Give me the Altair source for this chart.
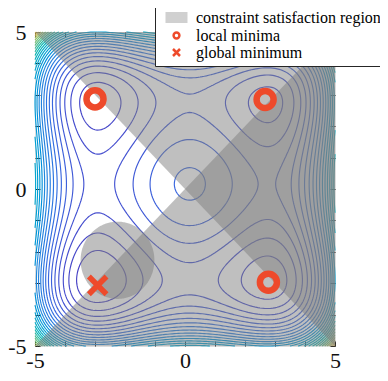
import numpy as np
import pandas as pd
import altair as alt

# ---------------- data ----------------
# Styblinski-Tang test function: f = SCALE * sum(c4*t^4 + c2*t^2 + c1*t)
POLY_COEFFS = [1.0, -16.0, 5.0]
POLY_SCALE = 0.5
GRID_MIN, GRID_MAX, GRID_N = -5.0, 5.0, 141
N_LEVEL_STEPS = 30

# marker positions
LOCAL_MIN_X = [-3.0, 2.67, 2.78]
LOCAL_MIN_Y = [2.87, 2.85, -2.97]
GLOBAL_MIN_X = [-2.91]
GLOBAL_MIN_Y = [-3.07]

CIRCLE_CENTER_X = -2.25
CIRCLE_CENTER_Y = -2.27
CIRCLE_RADIUS = 1.23

TICK_VALUES = [-5, -4, -3, -2, -1, 0, 1, 2, 3, 4, 5]
LABEL_VALUES = [-5, 0, 5]
LEGEND_LABELS = ["constraint satisfaction region", "local minima", "global minimum"]

COLOR_DOMAIN = [-78, -40, 0, 50, 100, 150, 180, 205, 228, 250]
COLOR_RANGE = ["#4a3cc0", "#4450d0", "#3a68e0", "#2686dc", "#12a8cc",
               "#3cbb98", "#86c070", "#d0bc58", "#f4c03a", "#f8e61c"]

# ---------------- contours ----------------
xs = np.linspace(GRID_MIN, GRID_MAX, GRID_N)
ys = np.linspace(GRID_MIN, GRID_MAX, GRID_N)
XX, YY = np.meshgrid(xs, ys)


def g(t):
    c4, c2, c1 = POLY_COEFFS
    return c4 * t ** 4 + c2 * t ** 2 + c1 * t


Z = POLY_SCALE * (g(XX) + g(YY))
levels = np.linspace(Z.min(), Z.max(), N_LEVEL_STEPS + 1)[1:-1]


def trace(level):
    B = Z > level
    code = (B[:-1, :-1] * 1 + B[:-1, 1:] * 2 + B[1:, 1:] * 4 + B[1:, :-1] * 8)
    jj, ii = np.nonzero((code != 0) & (code != 15))
    pts, adj = {}, {}

    def ep(key):
        if key in pts:
            return
        kind, i, j = key
        if kind == "h":
            z0, z1 = Z[j, i], Z[j, i + 1]
            t = (level - z0) / (z1 - z0)
            pts[key] = (xs[i] + t * (xs[i + 1] - xs[i]), ys[j])
        else:
            z0, z1 = Z[j, i], Z[j + 1, i]
            t = (level - z0) / (z1 - z0)
            pts[key] = (xs[i], ys[j] + t * (ys[j + 1] - ys[j]))

    def link(a, b):
        ep(a)
        ep(b)
        adj.setdefault(a, []).append(b)
        adj.setdefault(b, []).append(a)

    for j, i in zip(jj, ii):
        c0, c1, c2, c3 = B[j, i], B[j, i + 1], B[j + 1, i + 1], B[j + 1, i]
        bottom, right, top, left = ("h", i, j), ("v", i + 1, j), ("h", i, j + 1), ("v", i, j)
        cross = []
        if c0 != c1:
            cross.append(bottom)
        if c1 != c2:
            cross.append(right)
        if c2 != c3:
            cross.append(top)
        if c3 != c0:
            cross.append(left)
        if len(cross) == 2:
            link(cross[0], cross[1])
        elif len(cross) == 4:
            center = (Z[j, i] + Z[j, i + 1] + Z[j + 1, i + 1] + Z[j + 1, i]) / 4 > level
            if center == c0:
                link(bottom, right)
                link(top, left)
            else:
                link(left, bottom)
                link(right, top)

    visited = set()
    paths = []
    starts = [k for k, v in adj.items() if len(v) == 1] + list(adj.keys())
    for s in starts:
        if s in visited:
            continue
        path = [s]
        visited.add(s)
        prev, cur = None, s
        while True:
            nxt = [n for n in adj[cur] if n != prev and n not in visited]
            if not nxt:
                if len(path) > 2 and s in adj[cur]:
                    path.append(s)
                break
            prev, cur = cur, nxt[0]
            path.append(cur)
            visited.add(cur)
        paths.append([pts[k] for k in path])
    return paths


rows = []
for li, lev in enumerate(levels):
    for pi, path in enumerate(trace(lev)):
        for k, (px, py) in enumerate(path):
            rows.append({"level": round(float(lev), 3), "pid": f"{li}_{pi}", "ord": k,
                         "x": round(float(px), 4), "y": round(float(py), 4)})
contour_df = pd.DataFrame(rows)

# ---------------- constraint regions ----------------
reg_rows = []
# half plane x + y >= 0
for xv in [GRID_MIN, GRID_MAX]:
    reg_rows.append({"region": "a", "x": xv, "lo": -xv, "hi": GRID_MAX})
# half plane x >= y
for xv in [GRID_MIN, GRID_MAX]:
    reg_rows.append({"region": "b", "x": xv, "lo": GRID_MIN, "hi": xv})
# disc
for th in np.linspace(np.pi, 0, 121):
    dx = CIRCLE_RADIUS * np.cos(th)
    dy = CIRCLE_RADIUS * np.sin(th)
    reg_rows.append({"region": "c", "x": CIRCLE_CENTER_X + dx,
                     "lo": CIRCLE_CENTER_Y - dy, "hi": CIRCLE_CENTER_Y + dy})
region_df = pd.DataFrame(reg_rows)

local_df = pd.DataFrame({"x": LOCAL_MIN_X, "y": LOCAL_MIN_Y, "label": LEGEND_LABELS[1]})
global_df = pd.DataFrame({"x": GLOBAL_MIN_X, "y": GLOBAL_MIN_Y, "label": LEGEND_LABELS[2]})

# ---------------- chart ----------------
W, H = 300, 314
FONT = "Liberation Serif"
AX = "#262626"
RED = "#ee4a2b"

xscale = alt.Scale(domain=[GRID_MIN, GRID_MAX], nice=False, zero=False)
yscale = alt.Scale(domain=[GRID_MIN, GRID_MAX], nice=False, zero=False)

label_expr = "datum.value < 0 ? '-' + format(-datum.value, 'd') : format(datum.value, 'd')"


def label_axis(orient, pad):
    return alt.Axis(orient=orient, values=LABEL_VALUES, ticks=False, tickSize=0, domain=False,
                    grid=False, title=None, labelFont=FONT, labelFontSize=22,
                    labelColor="#111111", labelPadding=pad, labelExpr=label_expr,
                    labelOverlap=False, labelFlush=False)


def tick_axis(orient, offset):
    return alt.Axis(orient=orient, offset=offset, values=TICK_VALUES, labels=False,
                    tickSize=5, tickColor=AX, tickWidth=1, domain=False, grid=False,
                    title=None)


RECT_PATH = ("M-1.571,-0.607H1.571M-1.571,-0.455H1.571M-1.571,-0.303H1.571"
             "M-1.571,-0.152H1.571M-1.571,0H1.571M-1.571,0.152H1.571"
             "M-1.571,0.303H1.571M-1.571,0.455H1.571M-1.571,0.607H1.571")
CIRCLE_PATH = "M0.414,0A0.414,0.414 0 1,1 -0.414,0A0.414,0.414 0 1,1 0.414,0Z"
X_PATH = "M-0.5,-0.5L0.5,0.5M-0.5,0.5L0.5,-0.5"

legend = alt.Legend(orient="none", legendX=120, legendY=-28, title=None,
                    padding=5, rowPadding=0, symbolSize=196, symbolStrokeWidth=2.5,
                    symbolOffset=8, labelOffset=11, labelFont=FONT, labelFontSize=16,
                    labelColor="black", labelLimit=0, strokeColor=AX, fillColor="white")

color_enc = alt.Color("label:N", scale=alt.Scale(domain=LEGEND_LABELS,
                                                 range=["#d0d0d0", RED, RED]), legend=legend)
shape_enc = alt.Shape("label:N", scale=alt.Scale(domain=LEGEND_LABELS,
                                                 range=[RECT_PATH, CIRCLE_PATH, X_PATH]),
                      legend=legend)

contours = alt.Chart(contour_df).mark_line(strokeWidth=1.15).encode(
    x=alt.X("x:Q", scale=xscale, axis=label_axis("bottom", 4)),
    y=alt.Y("y:Q", scale=yscale, axis=label_axis("left", 9)),
    detail="pid:N",
    order="ord:Q",
    stroke=alt.Stroke("level:Q", scale=alt.Scale(domain=COLOR_DOMAIN, range=COLOR_RANGE),
                      legend=None),
)

regions = alt.Chart(region_df).mark_area(color="#808080", opacity=0.5).encode(
    x=alt.X("x:Q", scale=xscale, axis=tick_axis("top", -H)),
    y=alt.Y("lo:Q", scale=yscale, axis=tick_axis("right", -W)),
    y2="hi:Q",
    detail="region:N",
)

local_pts = alt.Chart(local_df).mark_point(filled=False, size=1690, strokeWidth=6.5,
                                           opacity=1).encode(
    x=alt.X("x:Q", scale=xscale, axis=tick_axis("bottom", -H)),
    y=alt.Y("y:Q", scale=yscale, axis=tick_axis("left", -W)),
    color=color_enc,
    shape=shape_enc,
)

global_pt = alt.Chart(global_df).mark_point(filled=False, size=1250, strokeWidth=5.5,
                                            opacity=1).encode(
    x=alt.X("x:Q", scale=xscale, axis=None),
    y=alt.Y("y:Q", scale=yscale, axis=None),
    color=color_enc,
    shape=shape_enc,
)

chart = alt.layer(contours, regions, local_pts, global_pt).resolve_axis(
    x="independent", y="independent"
).properties(
    width=W, height=H,
    autosize=alt.AutoSizeParams(type="none"),
    padding={"left": 27, "top": 24, "right": 45, "bottom": 27},
).configure_view(stroke=AX, strokeWidth=1).configure(background="white")

chart.save("out.html", embed_options={"renderer": "svg", "actions": False})
